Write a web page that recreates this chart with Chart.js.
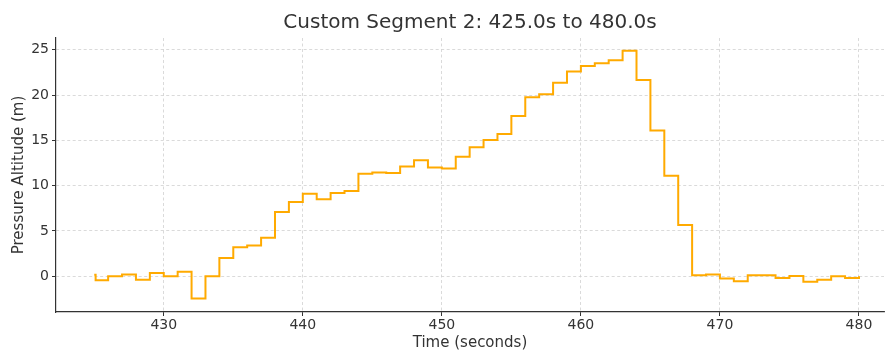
<!DOCTYPE html>
<html>
<head>
<meta charset="utf-8">
<script src="https://cdn.jsdelivr.net/npm/chart.js@4/dist/chart.umd.min.js"></script>
<style>
html,body{margin:0;padding:0;background:#fff;}
#wrap{width:885px;height:352px;position:relative;}
</style>
</head>
<body>
<div id="wrap"><canvas id="c" width="885" height="352"></canvas></div>
<script>
const titleText = "Custom Segment 2: 425.0s to 480.0s";
const xTitle = "Time (seconds)";
const yTitle = "Pressure Altitude (m)";
const times = [425,425.1,426,427,428,429,430,431,432,433,434,435,436,437,438,439,440,441,442,443,444,445,446,447,448,449,450,451,452,453,454,455,456,457,458,459,460,461,462,463,464,465,466,467,468,469,470,471,472,473,474,475,476,477,478,479,480];
const altitude = [0.15,-0.45,0.0,0.2,-0.4,0.35,0.0,0.5,-2.45,0.0,2.0,3.2,3.4,4.25,7.1,8.2,9.1,8.5,9.2,9.4,11.3,11.45,11.4,12.1,12.8,12.0,11.9,13.2,14.25,15.05,15.7,17.7,19.75,20.1,21.35,22.6,23.2,23.5,23.85,24.9,21.65,16.1,11.1,5.65,0.1,0.2,-0.25,-0.55,0.1,0.1,-0.2,0.03,-0.6,-0.4,0.0,-0.2,0.0];
const xTicks = [430,440,450,460,470,480];
const yTicks = [0,5,10,15,20,25];

const points = times.map((t,i)=>({x:t,y:altitude[i]}));
const FONT = "'DejaVu Sans', sans-serif";
const gridCommon = {
  color:'#d0d0d0', lineWidth:0.8,
  tickColor:'#333333', tickLength:4, tickWidth:1
};
const borderCommon = {display:true, color:'#333333', width:1.2, dash:[3,2.5]};
const titlePlugin = {
  id:'centeredTitle',
  afterDraw(chart){
    const ctx = chart.ctx, a = chart.chartArea;
    ctx.save();
    ctx.font = "20px " + FONT;
    ctx.fillStyle = '#333333';
    ctx.textAlign = 'center';
    ctx.textBaseline = 'middle';
    ctx.fillText(titleText, (a.left + a.right)/2, 23);
    ctx.restore();
  }
};
new Chart(document.getElementById('c'), {
  type:'line',
  data:{datasets:[{data:points, borderColor:'#FFAA00', borderWidth:2, pointRadius:0, stepped:true, fill:false, tension:0}]},
  plugins:[titlePlugin],
  options:{
    responsive:false, animation:false, devicePixelRatio:1,
    layout:{padding:{left:10,right:1,top:38,bottom:0}},
    plugins:{
      legend:{display:false}, tooltip:{enabled:false}, title:{display:false}
    },
    scales:{
      x:{type:'linear', min:422.25, max:481.8,
        afterBuildTicks:s=>{s.ticks=xTicks.map(v=>({value:v}));},
        afterFit:s=>{s.height=40;},
        ticks:{color:'#333333', font:{family:FONT,size:14}, padding:1, maxRotation:0},
        grid:gridCommon,
        border:borderCommon,
        title:{display:true,text:xTitle,color:'#333333',font:{family:FONT,size:15},padding:{top:0,bottom:0}}
      },
      y:{type:'linear', min:-3.95, max:26.3,
        afterBuildTicks:s=>{s.ticks=yTicks.map(v=>({value:v}));},
        afterFit:s=>{s.width=46;},
        ticks:{color:'#333333', font:{family:FONT,size:14}, padding:3},
        grid:gridCommon,
        border:borderCommon,
        title:{display:true,text:yTitle,color:'#333333',font:{family:FONT,size:15},padding:{top:0,bottom:0}}
      }
    }
  }
});
</script>
</body>
</html>
